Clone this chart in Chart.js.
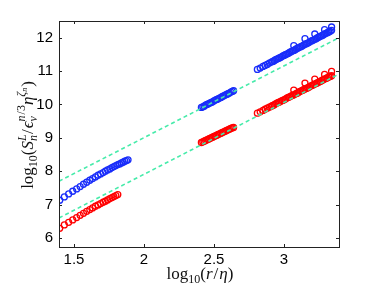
<!DOCTYPE html>
<html>
<head>
<meta charset="utf-8">
<script src="https://cdn.jsdelivr.net/npm/chart.js@4/dist/chart.umd.min.js"></script>
<style>
  html, body { margin: 0; padding: 0; background: #fff; }
  #wrap { width: 374px; height: 288px; }
</style>
</head>
<body>
<div id="wrap"><canvas id="structChart"></canvas></div>
<script>
// blue markers (three r ranges + a few bumps near the end)
const blueX = [
  1.398, 1.431, 1.462, 1.491, 1.519, 1.544, 1.568, 1.591, 1.613, 1.633, 1.653, 1.672, 1.690, 1.708,
  1.724, 1.740, 1.756, 1.771, 1.785, 1.799, 1.813, 1.826, 1.839, 1.851, 1.863, 1.875, 1.886,
  2.41, 2.42, 2.43, 2.44, 2.45, 2.46, 2.47, 2.48, 2.49, 2.50, 2.51, 2.52, 2.53, 2.54, 2.55, 2.56,
  2.57, 2.58, 2.59, 2.60, 2.61, 2.62, 2.63, 2.64,
  2.81, 2.83, 2.85, 2.865, 2.88, 2.895, 2.91, 2.92, 2.93, 2.94, 2.95, 2.96, 2.97, 2.98, 2.99, 3.00,
  3.01, 3.02, 3.03, 3.04, 3.05, 3.06, 3.07, 3.08, 3.09, 3.10, 3.11, 3.12, 3.13, 3.14, 3.15, 3.16,
  3.17, 3.18, 3.19, 3.20, 3.21, 3.22, 3.23, 3.24, 3.25, 3.26, 3.27, 3.28, 3.29, 3.30, 3.31, 3.32,
  3.33, 3.34,
  3.07, 3.15, 3.22, 3.29, 3.34
];
const blueY = [
  7.13, 7.23, 7.32, 7.40, 7.47, 7.54, 7.61, 7.67, 7.73, 7.78, 7.83, 7.88, 7.92, 7.96,
  8.00, 8.04, 8.07, 8.11, 8.14, 8.17, 8.20, 8.22, 8.25, 8.27, 8.30, 8.32, 8.34,
  9.91, 9.93, 9.95, 9.98, 10.00, 10.02, 10.04, 10.06, 10.08, 10.11, 10.13, 10.15, 10.17, 10.19, 10.21, 10.24,
  10.26, 10.28, 10.30, 10.32, 10.34, 10.37, 10.39, 10.41,
  11.05, 11.09, 11.14, 11.17, 11.20, 11.24, 11.27, 11.29, 11.31, 11.34, 11.36, 11.38, 11.40, 11.42, 11.45, 11.47,
  11.49, 11.51, 11.53, 11.56, 11.58, 11.60, 11.62, 11.64, 11.67, 11.69, 11.71, 11.73, 11.75, 11.78, 11.80, 11.82,
  11.84, 11.86, 11.89, 11.91, 11.93, 11.95, 11.97, 12.00, 12.02, 12.04, 12.06, 12.08, 12.11, 12.13, 12.15, 12.17,
  12.19, 12.22,
  11.76, 11.97, 12.11, 12.24, 12.32
];

// red markers
const redX = [
  1.398, 1.431, 1.462, 1.491, 1.519, 1.544, 1.568, 1.591, 1.613, 1.633, 1.653, 1.672, 1.690, 1.708,
  1.724, 1.740, 1.756, 1.771, 1.785, 1.799, 1.813,
  2.41, 2.42, 2.43, 2.44, 2.45, 2.46, 2.47, 2.48, 2.49, 2.50, 2.51, 2.52, 2.53, 2.54, 2.55, 2.56,
  2.57, 2.58, 2.59, 2.60, 2.61, 2.62, 2.63, 2.64,
  2.81, 2.83, 2.85, 2.865, 2.88, 2.895, 2.91, 2.92, 2.93, 2.94, 2.95, 2.96, 2.97, 2.98, 2.99, 3.00,
  3.01, 3.02, 3.03, 3.04, 3.05, 3.06, 3.07, 3.08, 3.09, 3.10, 3.11, 3.12, 3.13, 3.14, 3.15, 3.16,
  3.17, 3.18, 3.19, 3.20, 3.21, 3.22, 3.23, 3.24, 3.25, 3.26, 3.27, 3.28, 3.29, 3.30, 3.31, 3.32,
  3.33, 3.34,
  3.07, 3.15, 3.22, 3.29, 3.34
];
const redY = [
  6.29, 6.39, 6.47, 6.54, 6.61, 6.68, 6.74, 6.80, 6.85, 6.90, 6.95, 6.99, 7.03, 7.07,
  7.10, 7.14, 7.18, 7.21, 7.24, 7.27, 7.30,
  8.86, 8.88, 8.90, 8.92, 8.94, 8.96, 8.98, 9.00, 9.02, 9.04, 9.06, 9.08, 9.10, 9.12, 9.14, 9.16,
  9.18, 9.20, 9.22, 9.24, 9.26, 9.28, 9.30, 9.31,
  9.74, 9.78, 9.82, 9.86, 9.89, 9.92, 9.95, 9.97, 9.99, 10.02, 10.04, 10.06, 10.08, 10.10, 10.12, 10.14,
  10.16, 10.19, 10.21, 10.23, 10.25, 10.27, 10.29, 10.31, 10.33, 10.35, 10.38, 10.40, 10.42, 10.44, 10.46, 10.48,
  10.50, 10.52, 10.55, 10.57, 10.59, 10.61, 10.63, 10.65, 10.67, 10.69, 10.72, 10.74, 10.76, 10.78, 10.80, 10.82,
  10.84, 10.86,
  10.43, 10.64, 10.76, 10.90, 10.99
];

// dashed reference lines (end points)
const fitX = [1.393, 3.393];
const fitUpperY = [7.70, 12.00];
const fitLowerY = [6.60, 10.91];

const xTicks = [1.5, 2, 2.5, 3];
const yTicks = [6, 7, 8, 9, 10, 11, 12];

const toPts = (xs, ys) => xs.map((x, i) => ({ x: x, y: ys[i] }));

// draws a string made of pieces (sub/superscripts, italics), centred on (cx, cy)
function drawRich(ctx, parts, cx, cy, angle) {
  const fam = '"Liberation Serif", "DejaVu Serif", serif';
  let total = 0;
  parts.forEach(p => {
    ctx.font = (p.it ? "italic " : "") + p.s + "px " + fam;
    p.w = ctx.measureText(p.t).width + (p.gap || 0);
    if (p.adv !== false) total += p.w;
  });
  ctx.save();
  ctx.translate(cx, cy);
  ctx.rotate(angle);
  ctx.fillStyle = "#111";
  ctx.textBaseline = "alphabetic";
  ctx.textAlign = "left";
  let x = -total / 2;
  parts.forEach(p => {
    ctx.font = (p.it ? "italic " : "") + p.s + "px " + fam;
    ctx.fillText(p.t, x, p.dy || 0);
    if (p.adv !== false) x += p.w;
  });
  ctx.restore();
}

const xTitle = [
  { t: "log", s: 17 }, { t: "10", s: 12, dy: 4 }, { t: "(", s: 17 },
  { t: "r", s: 17, it: true, gap: 1 }, { t: "/", s: 17, gap: 1 }, { t: "η", s: 17, it: true }, { t: ")", s: 17 }
];
const yTitle = [
  { t: "log", s: 17 }, { t: "10", s: 12, dy: 4 }, { t: "(", s: 17 },
  { t: "S", s: 17, it: true }, { t: "L", s: 12, it: true, dy: -7, adv: false },
  { t: "n", s: 12, it: true, dy: 4, gap: 1 }, { t: "/", s: 17, gap: 1 },
  { t: "ϵ", s: 17, it: true }, { t: "v", s: 12, it: true, dy: 4, adv: false },
  { t: "n", s: 12, it: true, dy: -8, gap: 1 }, { t: "/3", s: 12, dy: -8 },
  { t: "η", s: 17, it: true }, { t: "ζ", s: 12, it: true, dy: -8 },
  { t: "n", s: 8, it: true, dy: -6, gap: 1 }, { t: ")", s: 17 }
];

const framePlugin = {
  id: "frame",
  afterDraw(chart) {
    const ctx = chart.ctx;
    const a = chart.chartArea;
    const xs = chart.scales.x, ys = chart.scales.y;
    ctx.save();
    ctx.strokeStyle = "#222";
    ctx.lineWidth = 1;
    ctx.strokeRect(a.left + 0.5, a.top + 0.5, a.right - a.left, a.bottom - a.top);
    ctx.beginPath();
    xTicks.forEach(t => {
      const px = Math.round(xs.getPixelForValue(t)) + 0.5;
      ctx.moveTo(px, a.bottom); ctx.lineTo(px, a.bottom - 3);
      ctx.moveTo(px, a.top); ctx.lineTo(px, a.top + 3);
    });
    yTicks.forEach(t => {
      const py = Math.round(ys.getPixelForValue(t)) + 0.5;
      ctx.moveTo(a.left, py); ctx.lineTo(a.left + 3, py);
      ctx.moveTo(a.right, py); ctx.lineTo(a.right - 3, py);
    });
    ctx.stroke();
    ctx.restore();
    drawRich(ctx, xTitle, (a.left + a.right) / 2 + 1, 279, 0);
    drawRich(ctx, yTitle, 33, 135, -Math.PI / 2);
  }
};

const markerStyle = color => ({
  showLine: false,
  pointStyle: "circle",
  pointRadius: 3,
  pointBorderWidth: 1.3,
  pointBorderColor: color,
  pointBackgroundColor: "rgba(0,0,0,0)",
  pointHoverRadius: 3
});

const dashStyle = {
  type: "line",
  borderColor: "rgb(70, 235, 170)",
  borderWidth: 1.6,
  borderDash: [4, 3],
  pointRadius: 0,
  fill: false
};

new Chart(document.getElementById("structChart").getContext("2d"), {
  type: "scatter",
  data: {
    datasets: [
      Object.assign({ data: toPts(fitX, fitUpperY) }, dashStyle),
      Object.assign({ data: toPts(fitX, fitLowerY) }, dashStyle),
      Object.assign({ data: toPts(blueX, blueY) }, markerStyle("rgb(25, 45, 250)")),
      Object.assign({ data: toPts(redX, redY) }, markerStyle("rgb(255, 0, 0)"))
    ]
  },
  options: {
    responsive: true,
    maintainAspectRatio: false,
    animation: false,
    layout: { padding: { top: 21, right: 35, left: 0, bottom: 0 } },
    plugins: { legend: { display: false }, tooltip: { enabled: false } },
    scales: {
      x: {
        type: "linear",
        min: 1.393,
        max: 3.393,
        afterBuildTicks: s => { s.ticks = xTicks.map(v => ({ value: v })); },
        afterFit: s => { s.height = 41; },
        grid: { display: false, drawTicks: false },
        border: { display: false },
        ticks: {
          padding: 4,
          maxRotation: 0,
          color: "#000",
          font: { family: '"Liberation Sans", Arial, sans-serif', size: 15 },
          callback: v => String(v)
        }
      },
      y: {
        type: "linear",
        min: 5.73,
        max: 12.5,
        afterBuildTicks: s => { s.ticks = yTicks.map(v => ({ value: v })); },
        afterFit: s => { s.width = 59; },
        grid: { display: false, drawTicks: false },
        border: { display: false },
        ticks: {
          padding: 6,
          color: "#000",
          font: { family: '"Liberation Sans", Arial, sans-serif', size: 15 },
          callback: v => String(v)
        }
      }
    }
  },
  plugins: [framePlugin]
});
</script>
</body>
</html>
